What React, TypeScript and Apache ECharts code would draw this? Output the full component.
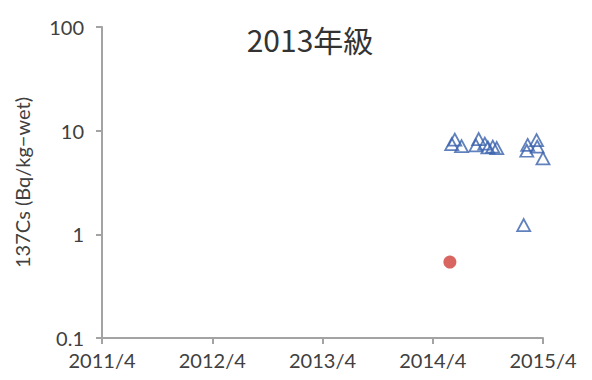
import React, { useEffect, useRef } from "react";
import * as echarts from "echarts";

// Sampling dates (YYYY-MM-DD) and 137Cs concentrations (Bq/kg-wet)
const triangleDates = [
  "2014-06-03", "2014-06-13", "2014-07-05", "2014-08-22", "2014-09-01",
  "2014-09-21", "2014-10-01", "2014-10-17", "2014-10-30",
  "2015-01-28", "2015-02-08", "2015-02-11", "2015-03-10", "2015-03-12", "2015-03-31",
];
const triangleValues = [
  7.4, 8.2, 7.1, 7.2, 8.3,
  7.5, 6.9, 7.0, 6.8,
  1.23, 6.4, 7.3, 8.1, 7.0, 5.4,
];
const circleDates = ["2014-05-27"];
const circleValues = [0.54];

const xTickLabels = ["2011/4", "2012/4", "2013/4", "2014/4", "2015/4"];
const yTickLabels = ["0.1", "1", "10", "100"];
const titleText = "2013年級";
const yAxisName = "137Cs (Bq/kg\u2212wet)";

// months elapsed since 2011/4/1
function toMonths(d: string): number {
  const [y, m, day] = d.split("-").map(Number);
  return (y - 2011) * 12 + (m - 4) + (day - 1) / 30;
}

export default function App() {
  const ref = useRef<HTMLDivElement>(null);

  useEffect(() => {
    if (!ref.current) return;
    const chart = echarts.init(ref.current, undefined, { renderer: "svg" });
    const font = "Lato, 'Noto Sans', sans-serif";
    const axisGrey = "#a3a3a3";
    chart.setOption({
      animation: false,
      backgroundColor: "#ffffff",
      grid: { left: 102, right: 49, top: 27, bottom: 42, containLabel: false },
      graphic: [
        {
          type: "text",
          x: 310,
          y: 39,
          style: {
            text: titleText,
            fontSize: 30,
            fontFamily: "'Noto Sans CJK JP', 'Noto Sans', sans-serif",
            fill: "#333333",
            textAlign: "center",
            textVerticalAlign: "middle",
          },
        },
      ],
      xAxis: {
        type: "value",
        min: 0,
        max: 48,
        interval: 12,
        axisLine: { show: true, lineStyle: { color: axisGrey, width: 2 } },
        axisTick: { show: true, length: 6, lineStyle: { color: axisGrey, width: 2 } },
        splitLine: { show: false },
        axisLabel: {
          margin: 12,
          fontSize: 20,
          fontFamily: font,
          color: "#404040",
          formatter: (v: number) => xTickLabels[Math.round(v / 12)] ?? "",
        },
      },
      yAxis: {
        type: "log",
        logBase: 10,
        min: 0.1,
        max: 100,
        axisLine: { show: true, lineStyle: { color: axisGrey, width: 2 } },
        axisTick: { show: true, length: 6, lineStyle: { color: axisGrey, width: 2 } },
        splitLine: { show: false },
        axisLabel: {
          margin: 18,
          fontSize: 20,
          fontFamily: font,
          color: "#404040",
          formatter: (v: number) => {
            const i = Math.round(Math.log10(v)) + 1;
            return yTickLabels[i] ?? String(v);
          },
        },
        name: yAxisName,
        nameLocation: "middle",
        nameRotate: 90,
        nameGap: 70,
        nameTextStyle: { fontSize: 20, fontFamily: font, color: "#404040" },
      },
      series: [
        {
          type: "scatter",
          clip: false,
          symbol: "triangle",
          symbolSize: [13, 12],
          itemStyle: { color: "rgba(0,0,0,0)", borderColor: "#3a62ad", borderWidth: 1.8 },
          data: triangleDates.map((d, i) => [toMonths(d), triangleValues[i]]),
        },
        {
          type: "scatter",
          clip: false,
          symbol: "circle",
          symbolSize: 13,
          itemStyle: { color: "#cf3f38" },
          data: circleDates.map((d, i) => [toMonths(d), circleValues[i]]),
        },
      ],
    });
    return () => chart.dispose();
  }, []);

  return (
    <div
      ref={ref}
      style={{ position: "fixed", left: 0, top: 0, width: 592, height: 380, background: "#fff" }}
    />
  );
}
